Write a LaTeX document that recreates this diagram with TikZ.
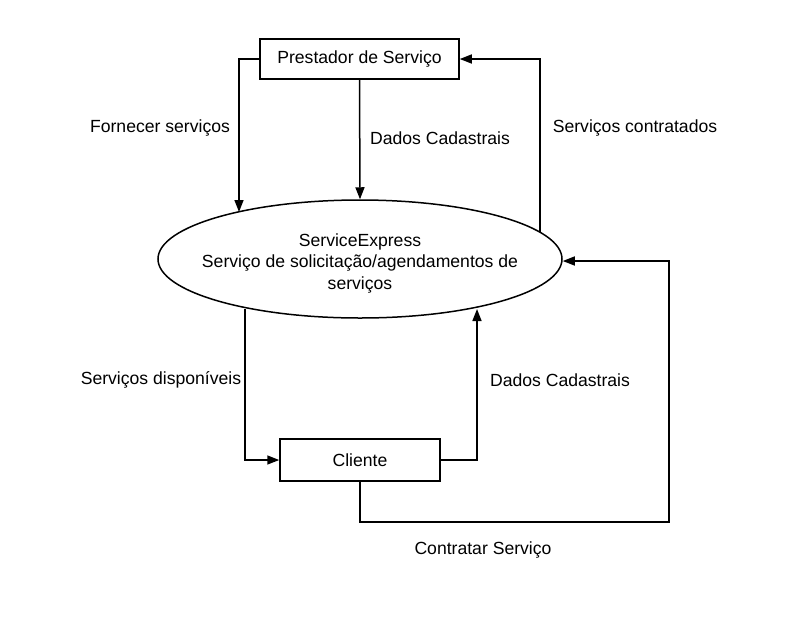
\documentclass[tikz,border=0pt]{standalone}
\usepackage{fontspec}
\setmainfont{Liberation Sans}
\usetikzlibrary{arrows.meta,shapes.geometric,calc}
\begin{document}
\begin{tikzpicture}[x=1pt,y=-1pt,
  every node/.style={font=\fontsize{17.6}{21.5}\selectfont},
  boxnode/.style={draw,line width=1.5pt,minimum width=199pt,minimum height=40pt,inner sep=0pt},
  ellnode/.style={draw,ellipse,line width=1.5pt,minimum width=404pt,minimum height=118pt,inner sep=0pt},
  conn/.style={line width=1.5pt,-{Triangle[length=12pt,width=9pt]}},
  lbl/.style={inner sep=0pt}]
\useasboundingbox (0,0) rectangle (795,622);
\node[boxnode] (prest) at (359.5,59) {Prestador de Serviço};
\node[ellnode] (sys) at (360,259) {};
\node[align=center,inner sep=0pt] (systxt) at (360,263) {ServiceExpress\\Serviço de solicitação/agendamentos de\\serviços};
\node[boxnode,minimum width=160pt,minimum height=42pt] (cli) at (360,460) {Cliente};

\coordinate (e1) at (239,212);
\coordinate (e3) at (540,232);
\coordinate (e4) at (245,309);
\coordinate (e5) at (477,309);

\draw[conn] (prest.west) -| (e1);
\draw[conn] (prest.south) -- (sys.north);
\draw[conn] (e3) |- (prest.east);
\draw[conn] (e4) |- (cli.west);
\draw[conn] (cli.east) -| (e5);
\draw[conn] (cli.south) -- ++(0,40) -| (669,261) -- (sys.east |- 0,261);

\node[lbl] (l1) at (160,128) {Fornecer serviços};
\node[lbl] (l2) at (440,138) {Dados Cadastrais};
\node[lbl] (l3) at (635,128) {Serviços contratados};
\node[lbl] (l4) at (161,380) {Serviços disponíveis};
\node[lbl] (l5) at (560,380) {Dados Cadastrais};
\node[lbl] (l6) at (483,550) {Contratar Serviço};
\end{tikzpicture}
\end{document}
